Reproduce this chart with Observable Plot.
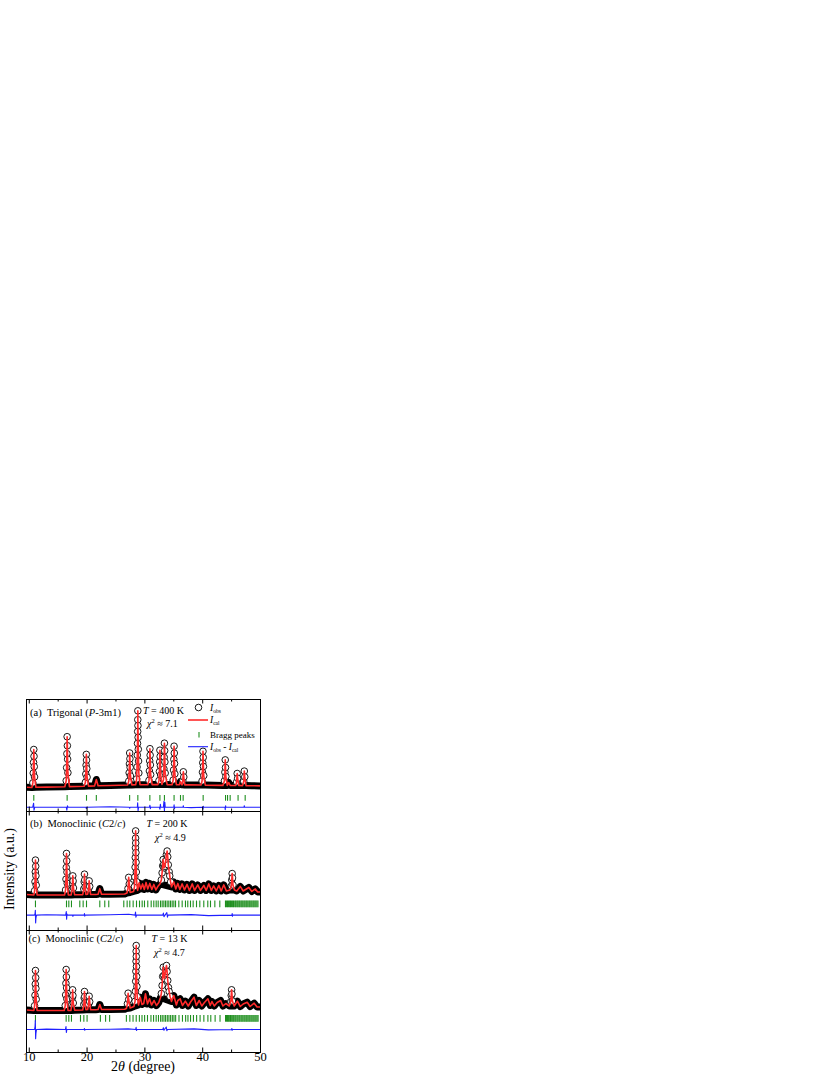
<!DOCTYPE html>
<html><head><meta charset="utf-8">
<script src="https://cdn.jsdelivr.net/npm/d3@7"></script>
<script src="https://cdn.jsdelivr.net/npm/@observablehq/plot@0.6"></script>
<style>
body{margin:0;background:#fff;}
#root{position:relative;width:830px;height:1075px;font-family:"Liberation Serif","Times New Roman",serif;}
#root svg.panel{position:absolute;}
</style></head><body><div id="root"></div>
<script>
// ---------- tick labels ----------
const majorTicks = [10, 20, 30, 40, 50];
const minorTicks = [15, 25, 35, 45];

// ---------- panel (a) Trigonal, 400 K ----------
const baseA = [[9.52,2],[10.45,0],[11.15,2],[13,4],[16.15,7],[16.95,9],[19.5,13],[20.25,14],[21.3,16],[21.6,80],[21.9,17],[24,20],[27.0,25],[27.75,26],[28.4,27],[29.15,28],[30.5,28],[31.25,29],[32.25,29],[32.95,30],[33.85,29],[34.7,28],[35.45,28],[35.95,28],[36.15,60],[36.35,28],[36.45,27],[36.9,26],[37.5,26],[39.7,25],[40.45,24],[43.5,21],[44.25,21],[44.5,50],[44.75,21],[45.7,20],[46.25,20],[46.9,19],[47.5,19],[48.5,18],[50,16]];
const peakA = [
 [10.62,46],[10.69,144],[10.74,251],[10.78,380],[10.82,312],[10.86,209],[10.91,106],
 [16.39,68],[16.46,198],[16.51,338],[16.55,508],[16.59,418],[16.63,283],[16.68,148],
 [19.71,52],[19.78,134],[19.83,223],[19.87,331],[19.91,274],[19.95,188],[20.0,103],
 [27.21,63],[27.28,147],[27.33,236],[27.37,345],[27.41,287],[27.45,201],[27.5,115],
 [28.58,86],[28.64,205],[28.69,323],[28.72,441],[28.75,560],[28.77,678],[28.78,767],[28.8,619],[28.83,501],[28.86,382],[28.9,264],[28.95,145],
 [30.71,71],[30.78,165],[30.83,266],[30.87,388],[30.91,323],[30.95,226],[31.0,129],
 [32.44,69],[32.51,159],[32.56,256],[32.6,373],[32.64,311],[32.68,218],[32.73,125],
 [33.22,78],[33.29,186],[33.34,302],[33.38,443],[33.42,368],[33.46,256],[33.51,144],
 [34.89,74],[34.96,174],[35.01,282],[35.05,413],[35.09,344],[35.13,240],[35.18,136],
 [36.55,66],[36.65,157],[36.73,105],
 [39.89,65],[39.96,153],[40.01,247],[40.05,362],[40.09,301],[40.13,210],[40.18,119],
 [43.76,67],[43.84,153],[43.9,276],[43.95,200],[44.01,110],
 [45.87,56],[45.97,140],[46.05,92],
 [47.1,63],[47.2,164],[47.28,106]];
const braggA = [10.78,16.55,19.9,21.6,27.36,28.78,30.86,32.6,33.38,35.05,36.16,36.62,40.08,43.95,44.3,44.75,46.12,47.35];
const diffA = [[9.52,0],[10.6,0],[10.75,40],[10.82,-30],[10.95,0],[16.4,0],[16.5,-30],[16.6,15],[16.7,0],[19.8,0],[19.87,-15],[19.95,0],[24,4],[27.3,0],[27.37,-10],[27.45,0],[28.7,0],[28.75,45],[28.82,-35],[28.9,0],[30.8,0],[30.87,20],[30.95,-15],[31.0,0],[32.5,0],[32.6,-20],[32.68,30],[32.75,0],[33.2,0],[33.3,60],[33.38,-40],[33.45,50],[33.52,0],[35.0,0],[35.05,25],[35.12,-15],[35.2,0],[36.6,0],[36.65,15],[36.7,0],[38,-4],[40.0,0],[40.05,-20],[40.1,10],[40.15,0],[43.85,0],[43.9,-25],[43.96,15],[44.0,0],[47.15,0],[47.2,15],[47.25,0],[50,0]];

// ---------- panel (b) Monoclinic, 200 K ----------
const baseB = [[9.52,5],[10.8,0],[11.35,0],[13,0],[16.1,0],[16.75,0],[17.25,0],[17.85,2],[19.25,3],[19.8,5],[20.1,8],[20.6,6],[21.5,5],[21.9,8],[22.2,63],[22.5,8],[24,8],[26.5,10],[26.9,20],[27.45,25],[28.05,35],[28.75,45],[29.0,120],[29.3,60],[29.6,110],[29.9,55],[30.2,125],[30.5,60],[30.85,115],[31.2,55],[31.55,105],[31.9,50],[32.3,90],[32.6,110],[34.6,80],[35.0,130],[35.35,60],[35.7,115],[36.05,55],[36.45,110],[36.85,50],[37.3,105],[37.7,45],[38.2,110],[38.6,45],[39.15,100],[39.6,45],[40.2,95],[40.6,45],[41.06,110],[41.5,45],[41.9,90],[42.35,40],[42.8,95],[43.2,40],[43.65,100],[44.1,40],[44.7,50],[45.5,50],[45.9,40],[46.5,85],[47.0,40],[47.98,75],[48.5,35],[49.1,60],[49.5,30],[50,30]];
const peakB = [
 [10.92,42],[10.99,132],[11.04,229],[11.07,347],[11.11,285],[11.15,191],[11.2,97],
 [16.28,50],[16.35,157],[16.4,273],[16.44,413],[16.48,339],[16.52,227],[16.57,116],
 [17.41,57],[17.48,120],[17.53,190],[17.58,140],[17.64,70],
 [19.43,60],[19.5,130],[19.55,207],[19.6,150],[19.66,80],
 [20.26,60],[20.36,140],[20.45,85],
 [27.08,65],[27.2,175],[27.3,110],
 [28.2,83],[28.26,180],[28.31,276],[28.34,372],[28.37,469],[28.39,565],[28.4,637],[28.42,517],[28.45,421],[28.48,324],[28.52,228],[28.57,132],
 [32.85,150],[32.98,220],[33.08,290],[33.16,353],[33.25,300],[33.35,270],[33.45,285],[33.6,340],[33.72,400],[33.85,437],[33.95,380],[34.05,300],[34.2,230],[34.3,190],[34.45,130],
 [44.95,90],[45.03,150],[45.1,213],[45.16,170],[45.24,100]];
const braggB = [11.07,16.44,16.84,17.3,18.74,19.32,19.9,22.2,23.06,23.75,26.35,26.93,27.39,27.97,28.55,29.07,29.53,29.93,30.5,31.09,31.54,31.95,32.3,32.7,32.99,33.28,33.56,33.85,34.14,34.43,34.72,35.01,35.3,35.87,36.45,37.02,37.42,37.89,38.35,38.93,39.5,40.19,40.88,41.35,42.1,42.96,43.94,44.1,44.29,44.45,44.66,44.8,45.0,45.18,45.33,45.55,45.7,45.9,46.06,46.25,46.4,46.6,46.76,46.93,47.12,47.28,47.47,47.62,47.8,47.99,48.14,48.33,48.5,48.69,48.85,49.03,49.2,49.38,49.56];
const diffB = [[9.52,0],[10.9,0],[11.0,15],[11.05,47],[11.1,-77],[11.15,-30],[11.25,0],[13,4],[16.3,0],[16.4,35],[16.46,-40],[16.52,10],[16.6,0],[17.5,0],[17.55,-12],[17.6,0],[19.5,0],[19.55,15],[19.6,-10],[19.65,0],[24,3],[27.2,8],[28.3,0],[28.38,30],[28.45,-20],[28.55,0],[33.1,0],[33.2,20],[33.3,-15],[33.8,25],[33.9,-20],[34.0,0],[38,5],[41,-5],[45.05,0],[45.1,15],[45.15,-12],[45.2,0],[50,0]];

// ---------- panel (c) Monoclinic, 13 K ----------
const baseC = [[9.52,5],[10.8,0],[11.35,0],[13,0],[16.05,0],[16.7,0],[17.2,0],[17.85,3],[19.25,5],[19.8,8],[20.1,10],[20.6,8],[21.5,8],[21.9,10],[22.2,60],[22.5,10],[24,10],[26.5,12],[26.8,20],[27.45,25],[28.1,40],[28.9,55],[29.2,133],[29.5,60],[29.8,70],[30.1,167],[30.45,65],[30.8,117],[31.15,55],[31.6,100],[32.0,50],[32.4,80],[32.7,130],[34.6,90],[35.0,150],[35.45,55],[35.7,100],[36.1,117],[36.5,50],[37.0,93],[37.5,45],[37.9,85],[38.5,133],[38.9,50],[39.4,100],[39.85,45],[40.3,80],[40.9,117],[41.3,50],[41.6,90],[42.0,45],[42.5,80],[43.1,100],[43.5,45],[44.0,70],[44.6,45],[45.45,45],[46.0,93],[46.5,40],[47.0,65],[47.7,83],[48.2,40],[48.9,73],[49.4,35],[50,35]];
const peakC = [
 [10.92,48],[10.99,152],[11.04,264],[11.07,400],[11.11,328],[11.15,220],[11.2,112],
 [16.22,49],[16.29,156],[16.34,271],[16.38,410],[16.42,336],[16.46,226],[16.51,115],
 [17.38,62],[17.45,130],[17.5,207],[17.55,150],[17.61,75],
 [19.43,60],[19.5,125],[19.55,190],[19.6,140],[19.66,75],
 [20.26,62],[20.36,143],[20.45,88],
 [26.98,68],[27.1,173],[27.2,110],
 [28.3,92],[28.36,192],[28.41,292],[28.44,392],[28.47,492],[28.49,592],[28.5,650],[28.52,540],[28.55,440],[28.58,340],[28.62,240],[28.67,140],
 [32.85,170],[32.98,250],[33.08,340],[33.17,433],[33.27,350],[33.4,320],[33.52,370],[33.63,420],[33.74,450],[33.84,390],[33.95,300],[34.08,230],[34.2,190],[34.35,140],
 [44.86,90],[44.94,150],[45.0,207],[45.06,165],[45.14,95]];
const braggC = [11.07,16.38,16.84,17.3,18.86,19.44,20.0,22.3,23.2,23.9,26.8,27.4,27.95,28.5,29.05,29.5,29.95,30.45,31.05,31.5,31.95,32.35,32.72,33.0,33.3,33.58,33.88,34.16,34.45,34.75,35.03,35.32,35.9,36.5,37.05,37.45,37.9,38.4,38.95,39.55,40.2,40.9,41.4,42.15,43.0,43.95,44.12,44.3,44.48,44.67,44.82,45.02,45.2,45.36,45.56,45.72,45.92,46.08,46.27,46.42,46.62,46.78,46.95,47.14,47.3,47.49,47.64,47.82,48.0,48.16,48.35,48.52,48.7,48.87,49.05,49.22,49.4,49.58];
const diffC = [[9.52,0],[10.9,0],[11.0,30],[11.05,90],[11.1,-93],[11.15,-40],[11.25,0],[13,4],[16.25,0],[16.35,30],[16.42,-30],[16.5,0],[19.5,0],[19.55,10],[19.6,-8],[19.7,0],[24,3],[27.1,6],[28.4,0],[28.48,22],[28.55,-10],[28.65,0],[33.1,0],[33.2,18],[33.3,-8],[33.7,25],[33.8,-12],[33.9,0],[38.5,6],[41,-4],[45.0,0],[45.05,10],[45.1,-8],[45.2,0],[50,0]];

// ---------- rendering ----------
const RED = "#ff2a2a", BLUE = "#1f1fff", GREEN = "#1f8f1f";
const X_DOMAIN = [9.52, 50];
const FRAME_L = 26, FRAME_R = 260, ML = 20, MR = 20;
const W = FRAME_R - FRAME_L + ML + MR;
const root = document.getElementById("root");
const FONT = '"Liberation Serif","Times New Roman",serif';

function panel(cfg) {
  const obs = [...cfg.base, ...cfg.peaks].sort((p, q) => p[0] - q[0]);
  const H = cfg.plotH + cfg.mt + cfg.mb;
  const X = d => d[0], Y = d => d[1];
  const marks = [
    Plot.line(cfg.base, {x: X, y: Y, stroke: "#000", strokeWidth: 7, clip: true}),
    Plot.dot(cfg.peaks, {x: X, y: Y, r: 3.3, stroke: "#000", fill: "#fff", strokeWidth: 0.9}),
    Plot.line(obs, {x: X, y: Y, stroke: RED, strokeWidth: 1.6, clip: true}),
    Plot.ruleX(cfg.bragg, {x: d => d, y1: cfg.braggY[0], y2: cfg.braggY[1], stroke: GREEN, strokeWidth: 1.1}),
    Plot.line(cfg.diff, {x: X, y: d => d[1] + cfg.diffOffset, stroke: BLUE, strokeWidth: 1.1, clip: true}),
    Plot.ruleX(majorTicks, {x: d => d, insetBottom: cfg.plotH - 4.5, stroke: "#000"}),
    Plot.ruleX(majorTicks, {x: d => d, insetTop: cfg.plotH - 4.5, stroke: "#000"}),
    Plot.ruleX(minorTicks, {x: d => d, insetBottom: cfg.plotH - 2.5, stroke: "#000"}),
    Plot.ruleX(minorTicks, {x: d => d, insetTop: cfg.plotH - 2.5, stroke: "#000"}),
    Plot.frame({stroke: "#000", strokeWidth: 1})
  ];
  if (cfg.labels) marks.push(Plot.axisX(majorTicks, {anchor: "bottom", tickSize: 0, tickPadding: 0, tickFormat: d => String(d), fontSize: 12.5}));
  const svg = Plot.plot({
    width: W, height: H,
    marginLeft: ML, marginRight: MR, marginTop: cfg.mt, marginBottom: cfg.mb,
    x: cfg.labels ? {domain: X_DOMAIN} : {domain: X_DOMAIN, axis: null},
    y: {domain: cfg.yDomain, axis: null},
    style: {background: "transparent", fontFamily: FONT, fontSize: "12.5px", color: "#000", overflow: "visible"},
    marks
  });
  svg.classList.add("panel");
  svg.style.left = (FRAME_L - ML) + "px";
  svg.style.top = (cfg.top - cfg.mt) + "px";
  root.appendChild(svg);
}

panel({base: baseA, peaks: peakA, bragg: braggA, diff: diffA, yDomain: [-240, 880], top: 699, plotH: 112, mt: 2, mb: 2, diffOffset: -197, braggY: [-80, -137]});
panel({base: baseB, peaks: peakB, bragg: braggB, diff: diffB, yDomain: [-353, 830], top: 811, plotH: 119, mt: 2, mb: 2, diffOffset: -200, braggY: [-60, -127]});
panel({base: baseC, peaks: peakC, bragg: braggC, diff: diffC, yDomain: [-420, 800], top: 930, plotH: 122, mt: 2, mb: 20, diffOffset: -190, braggY: [-50, -117], labels: true});

// ---------- text overlay: labels, annotations, legend ----------
const NB = "\u00a0";
const overlay = `
<svg width="830" height="1075" style="position:absolute;left:0;top:0;pointer-events:none" font-family='${FONT}' fill="#000">
 <text x="30" y="716" font-size="10.5">(a)${NB}${NB}Trigonal (<tspan font-style="italic">P</tspan>-3m1)</text>
 <text x="143" y="714" font-size="10"><tspan font-style="italic">T</tspan> = 400 K</text>
 <text x="147" y="727" font-size="10"><tspan font-style="italic">χ</tspan><tspan font-size="6.5" dy="-4">2</tspan><tspan dy="4"> ≈ 7.1</tspan></text>

 <circle cx="198.5" cy="707.5" r="3.3" fill="none" stroke="#000" stroke-width="0.9"/>
 <text x="210" y="711" font-size="9.5"><tspan font-style="italic">I</tspan><tspan font-size="5.5" dy="2">obs</tspan></text>
 <line x1="188" y1="720" x2="208" y2="720" stroke="${RED}" stroke-width="1.6"/>
 <text x="210" y="722.5" font-size="9.5"><tspan font-style="italic">I</tspan><tspan font-size="5.5" dy="2">cal</tspan></text>
 <line x1="199" y1="732" x2="199" y2="737.5" stroke="${GREEN}" stroke-width="1.1"/>
 <text x="210" y="738" font-size="9">Bragg peaks</text>
 <line x1="188" y1="746.7" x2="208" y2="746.7" stroke="${BLUE}" stroke-width="1.1"/>
 <text x="210" y="750" font-size="9.5"><tspan font-style="italic">I</tspan><tspan font-size="5.5" dy="2">obs</tspan><tspan dy="-2"> - </tspan><tspan font-style="italic">I</tspan><tspan font-size="5.5" dy="2">cal</tspan></text>

 <text x="30" y="827" font-size="10.5">(b)${NB}${NB}Monoclinic (<tspan font-style="italic">C</tspan>2/<tspan font-style="italic">c</tspan>)</text>
 <text x="146.5" y="827" font-size="10"><tspan font-style="italic">T</tspan> = 200 K</text>
 <text x="155" y="841" font-size="10"><tspan font-style="italic">χ</tspan><tspan font-size="6.5" dy="-4">2</tspan><tspan dy="4"> ≈ 4.9</tspan></text>

 <text x="28.5" y="942" font-size="10.5">(c)${NB}${NB}Monoclinic (<tspan font-style="italic">C</tspan>2/<tspan font-style="italic">c</tspan>)</text>
 <text x="151.5" y="942" font-size="10"><tspan font-style="italic">T</tspan> = 13 K</text>
 <text x="154" y="956" font-size="10"><tspan font-style="italic">χ</tspan><tspan font-size="6.5" dy="-4">2</tspan><tspan dy="4"> ≈ 4.7</tspan></text>

 <text x="14" y="869" font-size="14" text-anchor="middle" transform="rotate(-90 14 869)">Intensity (a.u.)</text>
 <text x="143" y="1071" font-size="14" text-anchor="middle">2<tspan font-style="italic">θ</tspan> (degree)</text>
</svg>`;
root.insertAdjacentHTML("beforeend", overlay);
</script>
</body></html>
